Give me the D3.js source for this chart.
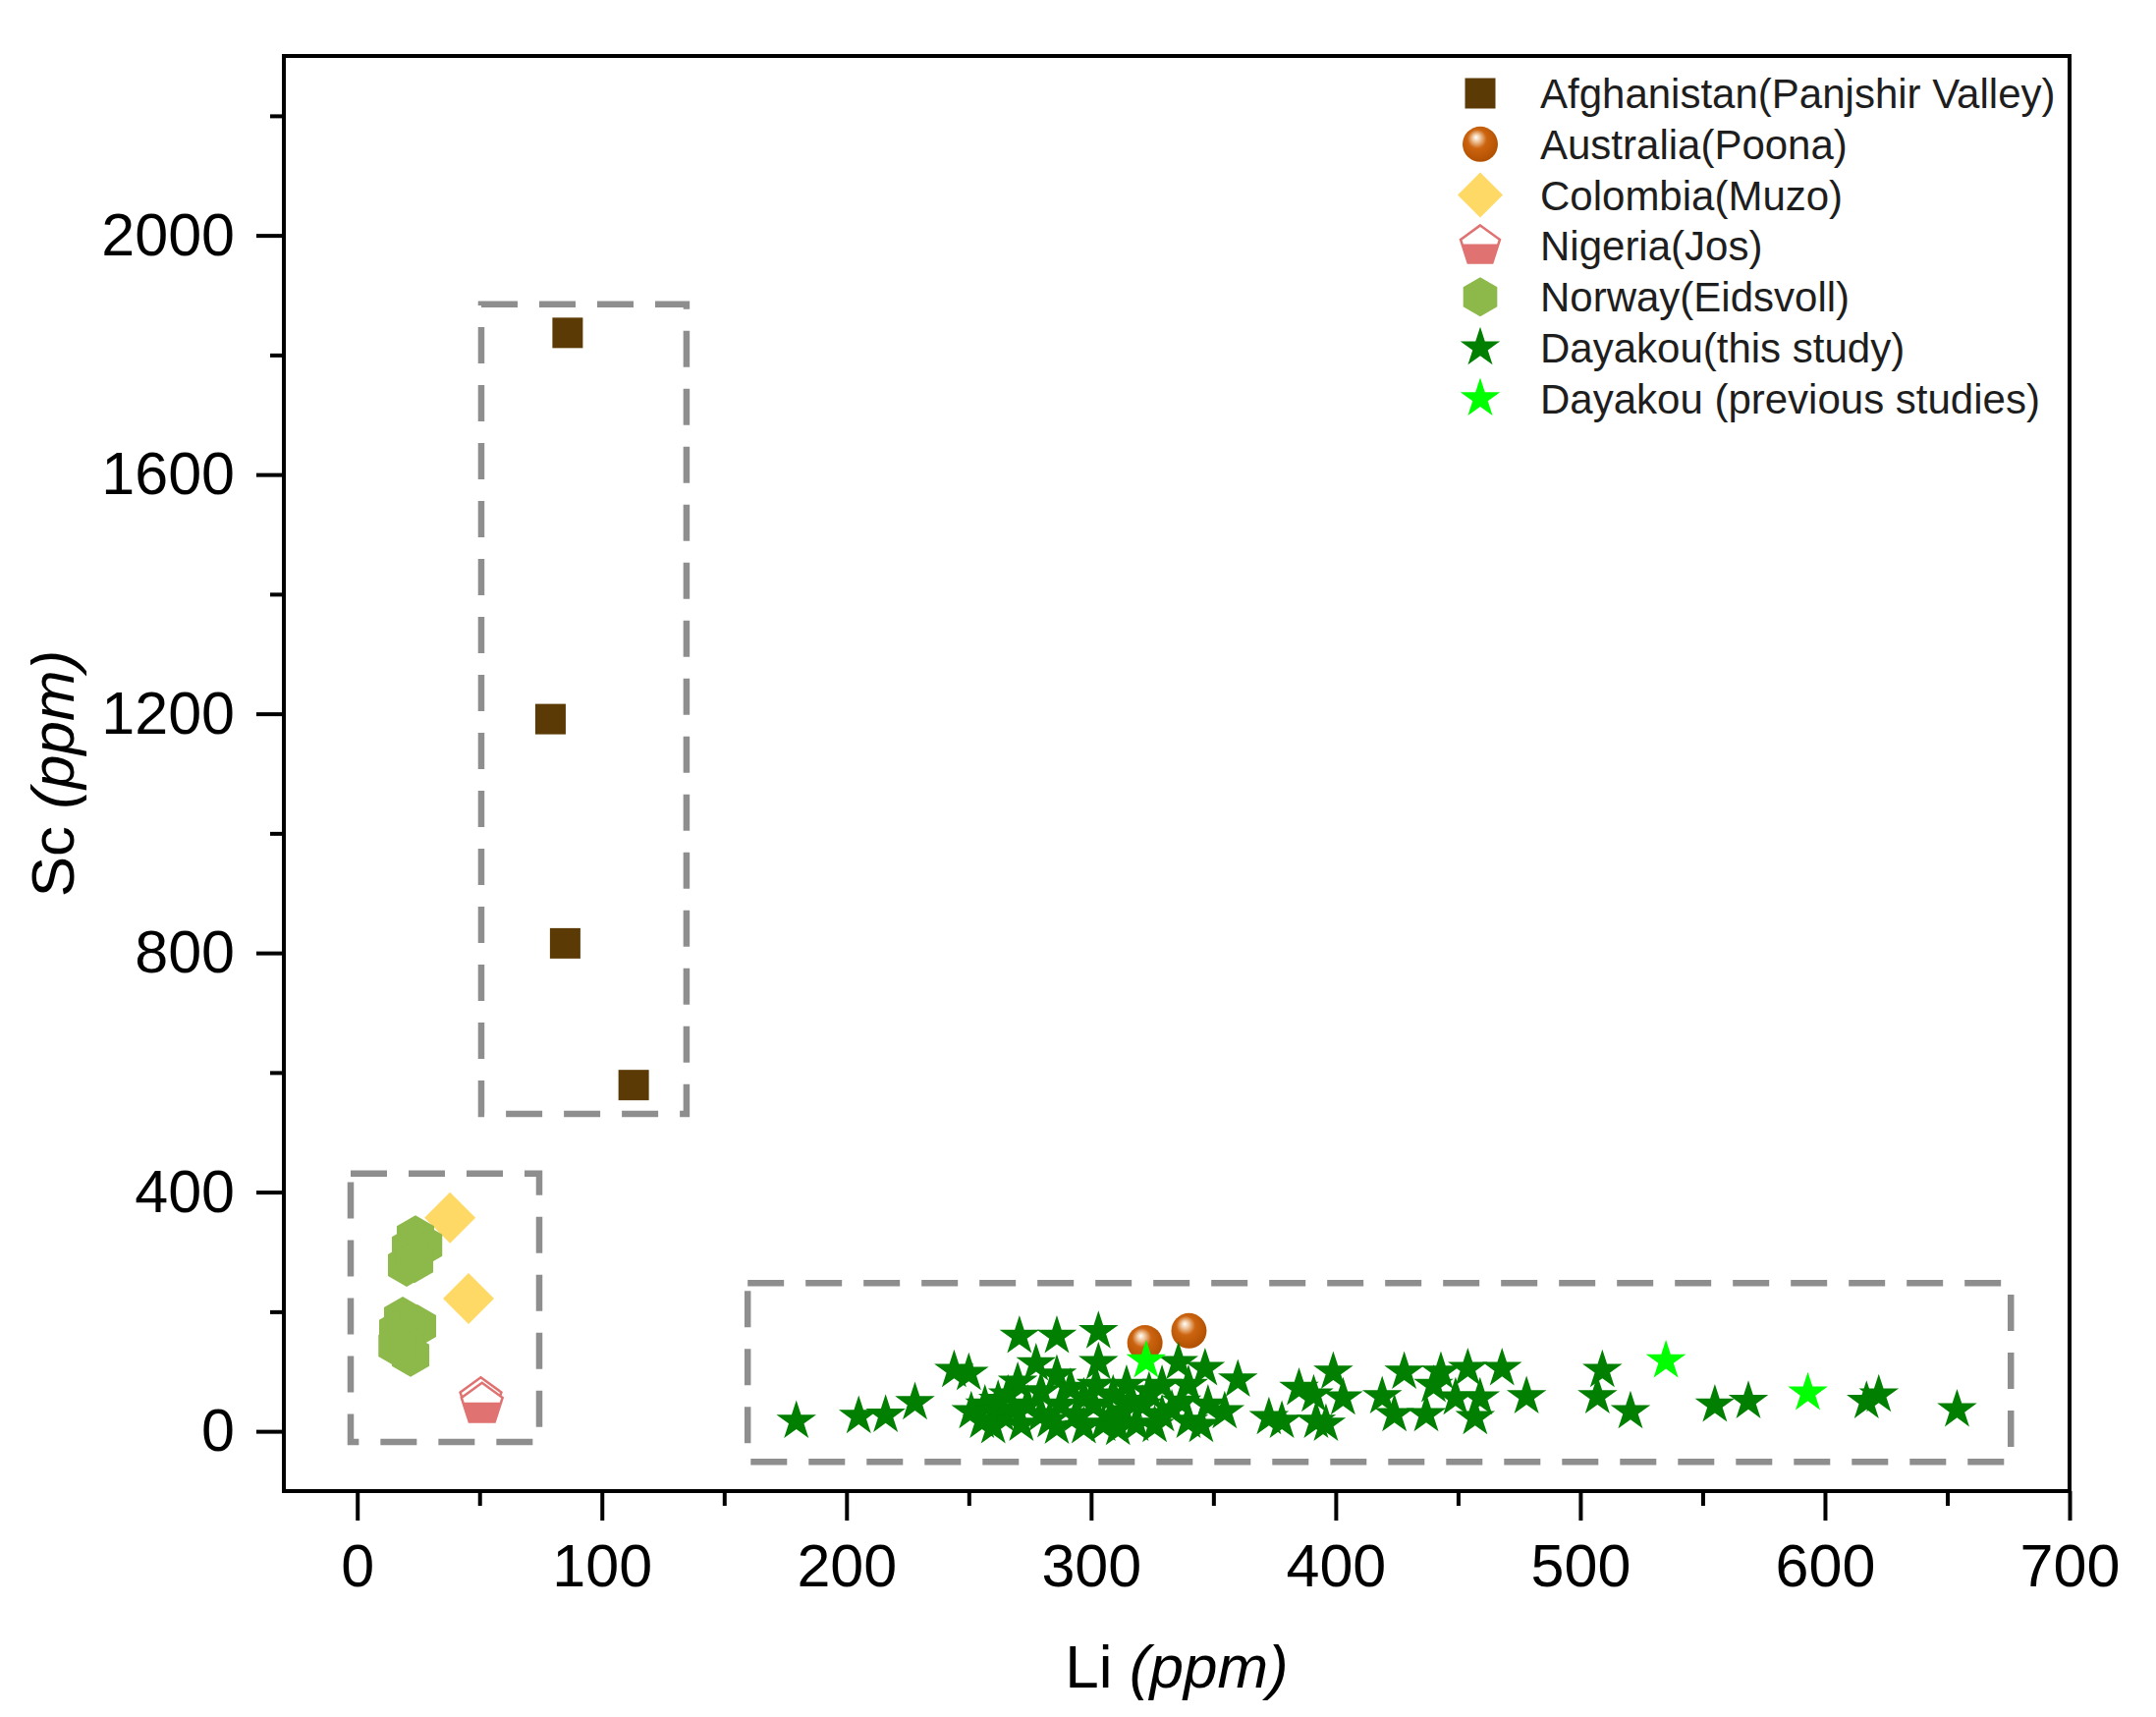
<!DOCTYPE html>
<meta charset="utf-8">
<style>
    body {
        margin: 0;
        overflow: hidden;
        background: #fff;
    }
    text {
        font-family: "Liberation Sans", Arial, sans-serif;
    }
</style>
<svg id="canvas"></svg>
<script src="https://d3js.org/d3.v7.min.js"></script>
<script>

    // ---- data (Li, Sc in ppm) ----
    var seriesNames = ["Afghanistan(Panjshir Valley)", "Australia(Poona)", "Colombia(Muzo)", "Nigeria(Jos)",
                       "Norway(Eidsvoll)", "Dayakou(this study)", "Dayakou (previous studies)"];
    var seriesColors = ["#5c3a06", "#c55a0b", "#ffd966", "#e07272", "#8db84a", "#007f00", "#00ff00"];

    var afghanLi = [86, 79, 85, 113];
    var afghanSc = [1837, 1191, 816, 579];

    var australiaLi = [322, 340];
    var australiaSc = [148, 168];

    var colombiaLi = [37.9, 45.5];
    var colombiaSc = [357, 222];

    var nigeriaLi = [50.5, 51];
    var nigeriaSc = [54, 45];

    var norwayLi = [23.8, 27.1, 21.8, 20.2, 23.4, 18.6, 16.6, 24.6, 19.4, 21.8, 16.3];
    var norwaySc = [325, 311, 307, 278, 284, 189, 168, 176, 146, 127, 143];

    var dayakouLi = [179.5, 205, 216, 228, 244, 250,
                     270.7, 286, 303,
                     277.5, 270, 286, 303, 302, 335.7, 346.6, 360, 339.8, 329, 314.5,
                     256.6, 263.5, 255.4, 274, 271.5, 279.5, 287.6, 286, 294, 301, 305, 313, 318.5, 321, 329,
                     339.8, 347.8, 354.6, 337, 266, 279.5, 291.6, 309, 323.7, 251,
                     260, 268, 283, 297, 308, 316, 326, 333, 345, 297, 262, 311,
                     372.7, 378, 385, 391, 399, 396, 392, 403, 419, 424, 428, 437, 443, 440, 454, 449, 457,
                     459, 468, 478, 509, 507, 520.5, 555, 568.7, 617, 622, 654];
    var dayakouSc = [17, 25, 27, 48, 102, 97,
                     159, 159, 167,
                     113, 82, 94, 115, 77, 115, 105, 86, 77, 77, 77,
                     44, 28, 17, 44, 12, 28, 44, 7, 28, 44, 12, 33, 12, 44, 28,
                     17, 44, 33, 49, 61, 66, 72, 61, 66, 33,
                     8, 36, 18, 8, 24, 50, 10, 36, 10, 56, 52, 5,
                     23, 17, 72, 61, 99, 12, 17, 56, 58, 28, 99, 28, 99, 77, 105, 56, 23,
                     56, 105, 58, 102, 58, 33, 44, 50, 50, 61, 36];

    var previousLi = [322.5, 535, 593];
    var previousSc = [118, 118, 64];

    var xTicks = [0, 100, 200, 300, 400, 500, 600, 700];
    var xMinor = [50, 150, 250, 350, 450, 550, 650];
    var yTicks = [0, 400, 800, 1200, 1600, 2000];
    var yMinor = [200, 600, 1000, 1400, 1800, 2200];

    // dashed grouping boxes [Li min, Li max, Sc min, Sc max]
    var boxLi = [[50.7, 134.6], [-2.7, 74.4], [159.6, 676]];
    var boxSc = [[531, 1885], [-18, 431], [-51, 248]];

    // ---- layout ----
    var width = 2195, height = 1748;
    var margin = {left: 289, right: 2195 - 2107, top: 57, bottom: 1748 - 1518};

    var svg = d3.select("svg")
                .attr("width", width)
                .attr("height", height);

    var x = d3.scaleLinear().domain([-30, 700]).range([margin.left, width - margin.right]);
    var y = d3.scaleLinear().domain([-100, 2300]).range([height - margin.bottom, margin.top]);

    var defs = svg.append("defs");
    var grad = defs.append("radialGradient")
                   .attr("id", "sphere")
                   .attr("cx", 0.45).attr("cy", 0.42).attr("r", 0.6)
                   .attr("fx", 0.38).attr("fy", 0.3);
    grad.append("stop").attr("offset", "0%").attr("stop-color", "#ffffff");
    grad.append("stop").attr("offset", "18%").attr("stop-color", "#f0c8a0");
    grad.append("stop").attr("offset", "45%").attr("stop-color", "#cc6410");
    grad.append("stop").attr("offset", "100%").attr("stop-color", "#b04f00");

    defs.append("clipPath")
        .attr("id", "lowerHalf")
        .append("rect")
        .attr("x", -60).attr("y", -2).attr("width", 120).attr("height", 80);

    function polygon(n, r) {
        var pts = d3.range(n).map(function(k) {
            var a = 2 * Math.PI * k / n;
            return [r * Math.sin(a), -r * Math.cos(a)];
        });
        return "M" + pts.join("L") + "Z";
    }

    function diamond(h) {
        return "M0," + (-h) + "L" + h + ",0L0," + h + "L" + (-h) + ",0Z";
    }

    var star = d3.symbol().type(d3.symbolStar).size(510)();
    var square = d3.symbol().type(d3.symbolSquare).size(961)();

    function zip(a, b) {
        return a.map(function(v, i) { return [v, b[i]]; });
    }

    // marker drawers: g is a translated group
    var drawers = [
        function(g, c) { g.append("path").attr("d", square).attr("fill", c); },
        function(g, c) { g.append("circle").attr("r", 18).attr("fill", "url(#sphere)"); },
        function(g, c, s) { g.append("path").attr("d", diamond(s ? 23 : 26)).attr("fill", c); },
        function(g, c, s) {
            var d = polygon(5, s ? 21 : 22);
            g.append("path").attr("d", d).attr("fill", "#fff").attr("stroke", c).attr("stroke-width", 2.5);
            g.append("path").attr("d", d).attr("fill", c).attr("clip-path", "url(#lowerHalf)");
        },
        function(g, c, s) { g.append("path").attr("d", polygon(6, s ? 20 : 22)).attr("fill", c); },
        function(g, c) { g.append("path").attr("d", star).attr("fill", c); },
        function(g, c) { g.append("path").attr("d", star).attr("fill", c); }
    ];

    var series = [
        zip(afghanLi, afghanSc),
        zip(australiaLi, australiaSc),
        zip(colombiaLi, colombiaSc),
        zip(nigeriaLi, nigeriaSc),
        zip(norwayLi, norwaySc),
        zip(dayakouLi, dayakouSc),
        zip(previousLi, previousSc)
    ];

    // dashed boxes
    svg.append("g")
       .selectAll("rect")
       .data(d3.range(boxLi.length))
       .enter().append("rect")
       .attr("x", function(i) { return x(boxLi[i][0]); })
       .attr("y", function(i) { return y(boxSc[i][1]); })
       .attr("width", function(i) { return x(boxLi[i][1]) - x(boxLi[i][0]); })
       .attr("height", function(i) { return y(boxSc[i][0]) - y(boxSc[i][1]); })
       .attr("fill", "none")
       .attr("stroke", "#8e8e8e")
       .attr("stroke-width", 6.5)
       .attr("stroke-dasharray", "37,22");

    // points
    series.forEach(function(pts, si) {
        svg.append("g")
           .attr("class", "series-" + si)
           .selectAll("g")
           .data(pts)
           .enter().append("g")
           .attr("transform", function(d) { return "translate(" + x(d[0]) + "," + y(d[1]) + ")"; })
           .each(function() { drawers[si](d3.select(this), seriesColors[si], false); });
    });

    // frame
    svg.append("rect")
       .attr("x", margin.left)
       .attr("y", margin.top)
       .attr("width", width - margin.left - margin.right)
       .attr("height", height - margin.top - margin.bottom)
       .attr("fill", "none")
       .attr("stroke", "#000")
       .attr("stroke-width", 4);

    // axes
    function styleAxis(g) {
        g.select(".domain").remove();
        g.selectAll("line").attr("stroke", "#000").attr("stroke-width", 4);
        g.selectAll("text").attr("fill", "#000").style("font-size", "61px")
         .style("font-family", "'Liberation Sans', Arial, sans-serif");
    }

    svg.append("g")
       .attr("transform", "translate(0," + (height - margin.bottom) + ")")
       .call(d3.axisBottom(x).tickValues(xTicks).tickFormat(d3.format("d")).tickSize(30).tickPadding(24))
       .call(styleAxis);
    svg.append("g")
       .attr("transform", "translate(0," + (height - margin.bottom) + ")")
       .call(d3.axisBottom(x).tickValues(xMinor).tickFormat("").tickSize(15))
       .call(styleAxis);

    svg.append("g")
       .attr("transform", "translate(" + margin.left + ",0)")
       .call(d3.axisLeft(y).tickValues(yTicks).tickFormat(d3.format("d")).tickSize(28).tickPadding(22))
       .call(styleAxis);
    svg.append("g")
       .attr("transform", "translate(" + margin.left + ",0)")
       .call(d3.axisLeft(y).tickValues(yMinor).tickFormat("").tickSize(14))
       .call(styleAxis);

    // axis titles
    var xt = svg.append("text")
                .attr("x", (margin.left + width - margin.right) / 2)
                .attr("y", 1718)
                .attr("text-anchor", "middle")
                .style("font-size", "62px");
    xt.append("tspan").text("Li ");
    xt.append("tspan").attr("font-style", "italic").text("(ppm)");

    var yt = svg.append("text")
                .attr("transform", "translate(75," + ((margin.top + height - margin.bottom) / 2) + ") rotate(-90)")
                .attr("text-anchor", "middle")
                .style("font-size", "62px");
    yt.append("tspan").text("Sc ");
    yt.append("tspan").attr("font-style", "italic").text("(ppm)");

    // legend
    var legend = svg.append("g")
                    .attr("transform", "translate(1507,95)");
    var row = legend.selectAll("g")
                    .data(seriesNames)
                    .enter().append("g")
                    .attr("transform", function(d, i) { return "translate(0," + (i * 51.8) + ")"; });
    row.each(function(d, i) {
        var g = d3.select(this);
        drawers[i](g.append("g"), seriesColors[i], true);
        g.append("text")
         .attr("x", 61)
         .attr("y", 15)
         .attr("fill", "#1e1e1e")
         .style("font-size", "42px")
         .text(d);
    });

</script>
